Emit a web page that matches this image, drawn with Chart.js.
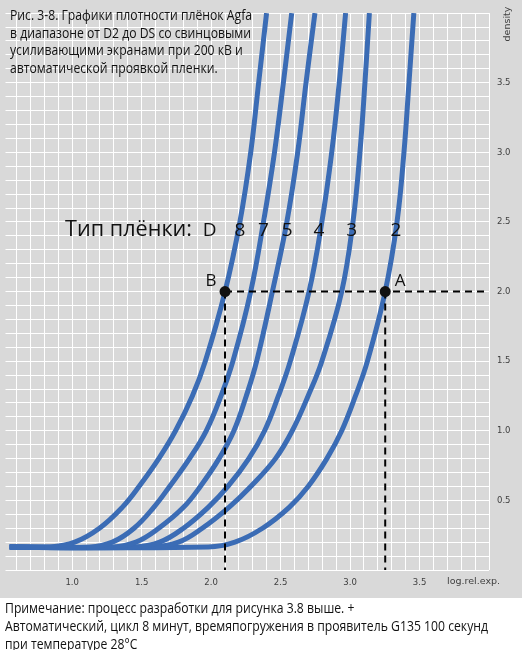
<!DOCTYPE html>
<html>
<head>
<meta charset="utf-8">
<script src="https://cdn.jsdelivr.net/npm/chart.js@4"></script>
<style>
  body { margin: 0; background: #fff; }
  canvas { display: block; }
</style>
</head>
<body>
<canvas id="canvas" width="522" height="650"></canvas>
<script>
// density levels shared by every curve (first two points = fog level)
const densityLevels = [0.165, 0.165, 0.2, 0.3, 0.45, 0.6, 0.8, 1.0, 1.25, 1.5, 2.0, 2.5, 3.0, 3.5, 4.0];

// log rel. exposure at those densities
const exp8 = [0.55, 0.840, 1.018, 1.196, 1.360, 1.481, 1.623, 1.744, 1.865, 1.958, 2.100, 2.207, 2.285, 2.342, 2.399];
const exp7 = [0.55, 1.125, 1.289, 1.445, 1.587, 1.701, 1.844, 1.965, 2.071, 2.157, 2.285, 2.377, 2.456, 2.520, 2.580];
const exp5 = [0.55, 1.289, 1.459, 1.623, 1.801, 1.922, 2.057, 2.164, 2.253, 2.328, 2.441, 2.545, 2.623, 2.683, 2.747];
const exp4 = [0.55, 1.445, 1.630, 1.801, 1.979, 2.121, 2.271, 2.385, 2.484, 2.570, 2.705, 2.797, 2.868, 2.922, 2.968];
const exp3 = [0.55, 1.573, 1.765, 1.936, 2.128, 2.285, 2.463, 2.584, 2.698, 2.797, 2.940, 3.021, 3.071, 3.107, 3.139];
const exp2 = [0.55, 1.979, 2.171, 2.370, 2.562, 2.698, 2.833, 2.940, 3.039, 3.125, 3.253, 3.338, 3.388, 3.424, 3.459];
const curveNames = ['D8', '7', '5', '4', '3', '2'];
const curveExposures = [exp8, exp7, exp5, exp4, exp3, exp2];

// points B and A at density 2.0
const markNames = ['B', 'A'];
const markExposure = [2.10, 3.253];
const markDensity = 2.0;

// film type labels, baseline at density 2.4
const filmLabels = ['D', '8', '7', '5', '4', '3', '2'];
const filmLabelExposure = [1.99, 2.207, 2.377, 2.548, 2.776, 3.011, 3.331];
const filmLabelDensity = 2.4;

// axis labels
const xTickLabels = [1.0, 1.5, 2.0, 2.5, 3.0, 3.5];
const yTickLabels = [0.5, 1.0, 1.5, 2.0, 2.5, 3.0, 3.5];

const titleLines = [
  'Рис. 3-8. Графики плотности плёнок Agfa',
  'в диапазоне от D2 до DS со свинцовыми',
  'усиливающими экранами при 200 кВ и',
  'автоматической проявкой пленки.'
];
const noteLines = [
  'Примечание: процесс разработки для рисунка 3.8 выше. +',
  'Автоматический, цикл 8 минут, времяпогружения в проявитель G135 100 секунд',
  'при температуре 28°C'
];

const blue = '#3b6cb5';

function gridTicks(min, max) {
  const t = [];
  for (let v = Math.ceil(min * 10); v <= Math.round(max * 10); v++) t.push({ value: v / 10 });
  return t;
}
function tickText(list) {
  return function(value) {
    return list.some(v => Math.abs(v - value) < 1e-6) ? value.toFixed(1) : '';
  };
}
function scaledText(ctx, text, x, y, sx) {
  ctx.save();
  ctx.translate(x, y);
  ctx.scale(sx, 1);
  ctx.fillText(text, 0, 0);
  ctx.restore();
}

const datasets = [];
datasets.push({
  data: markExposure.map(x => ({ x: x, y: markDensity })),
  showLine: false, pointRadius: 5.5, pointBackgroundColor: '#111', pointBorderWidth: 0, order: 0
});
const dashStyle = { showLine: true, borderColor: '#000', borderWidth: 2, borderDash: [7, 5], pointRadius: 0, order: 1 };
datasets.push(Object.assign({ data: [{ x: markExposure[0], y: markDensity }, { x: 4.0, y: markDensity }] }, dashStyle));
markExposure.forEach(x => {
  datasets.push(Object.assign({ data: [{ x: x, y: markDensity }, { x: x, y: 0 }] }, dashStyle));
});
curveExposures.forEach((exps, i) => {
  datasets.push({
    label: curveNames[i],
    data: exps.map((x, j) => ({ x: x, y: densityLevels[j] })),
    showLine: true, borderColor: blue, borderWidth: 5, pointRadius: 0,
    tension: 0.4, order: 2
  });
});

const decorate = {
  id: 'decorate',
  beforeDraw(chart) {
    const ctx = chart.ctx;
    ctx.save();
    ctx.fillStyle = '#ffffff';
    ctx.fillRect(0, 0, chart.width, chart.height);
    ctx.fillStyle = '#d9d9d9';
    ctx.fillRect(0, 0, chart.width, 598);
    ctx.restore();
  },
  afterDraw(chart) {
    const ctx = chart.ctx;
    const xs = chart.scales.x, ys = chart.scales.y;
    ctx.save();
    ctx.fillStyle = '#111';
    ctx.textBaseline = 'alphabetic';

    // title, squeezed to the width of the original
    ctx.font = '14px "Open Sans"';
    let sx = 242 / ctx.measureText(titleLines[0]).width;
    titleLines.forEach((t, i) => scaledText(ctx, t, 10, 20 + i * 17.5, sx));

    // film type labels
    const ly = ys.getPixelForValue(filmLabelDensity);
    ctx.font = '22px "Open Sans"';
    const tw = ctx.measureText('Тип плёнки:').width;
    scaledText(ctx, 'Тип плёнки:', 65, ly, 127 / tw);
    ctx.font = '19px "Open Sans"';
    ctx.textAlign = 'center';
    filmLabels.forEach((t, i) => {
      ctx.fillText(t, xs.getPixelForValue(filmLabelExposure[i]), ly);
    });

    // B / A
    ctx.font = '17px "Open Sans"';
    const my = ys.getPixelForValue(markDensity) - 6;
    ctx.fillText(markNames[0], xs.getPixelForValue(markExposure[0]) - 14, my);
    ctx.fillText(markNames[1], xs.getPixelForValue(markExposure[1]) + 15, my);

    // axis names
    ctx.fillStyle = '#404040';
    ctx.font = '9.5px "DejaVu Sans"';
    ctx.textAlign = 'left';
    ctx.textBaseline = 'middle';
    ctx.fillText('log.rel.exp.', 447, 582);
    ctx.save();
    ctx.translate(508, 24);
    ctx.rotate(-Math.PI / 2);
    ctx.textAlign = 'center';
    ctx.fillText('density', 0, 0);
    ctx.restore();

    // note under the chart
    ctx.fillStyle = '#111';
    ctx.textBaseline = 'alphabetic';
    ctx.font = '15px "Open Sans"';
    sx = 483 / ctx.measureText(noteLines[1]).width;
    noteLines.forEach((t, i) => scaledText(ctx, t, 5, 613 + i * 18, sx));
    ctx.restore();
  }
};

new Chart(document.getElementById('canvas'), {
  type: 'scatter',
  data: { datasets: datasets },
  options: {
    responsive: false,
    animation: false,
    devicePixelRatio: 1,
    layout: { padding: 0 },
    plugins: { legend: { display: false }, tooltip: { enabled: false } },
    scales: {
      x: {
        type: 'linear', position: 'bottom', min: 0.52, max: 4.0,
        afterBuildTicks: axis => { axis.ticks = gridTicks(0.52, 4.0); },
        afterFit: axis => { axis.height = 80; },
        grid: { color: '#ffffff', lineWidth: 1, drawTicks: false },
        border: { display: false },
        ticks: {
          autoSkip: false, maxRotation: 0, padding: 8,
          color: '#404040', font: { family: 'DejaVu Sans', size: 8.5 },
          callback: tickText(xTickLabels)
        }
      },
      y: {
        type: 'linear', position: 'right', min: 0, max: 4.0,
        afterBuildTicks: axis => { axis.ticks = gridTicks(0, 4.0); },
        afterFit: axis => { axis.width = 33; },
        grid: { color: '#ffffff', lineWidth: 1, drawTicks: false },
        border: { display: false },
        ticks: {
          autoSkip: false, padding: 8,
          color: '#404040', font: { family: 'DejaVu Sans', size: 8.5 },
          callback: tickText(yTickLabels)
        }
      }
    }
  },
  plugins: [decorate]
});
</script>
</body>
</html>
